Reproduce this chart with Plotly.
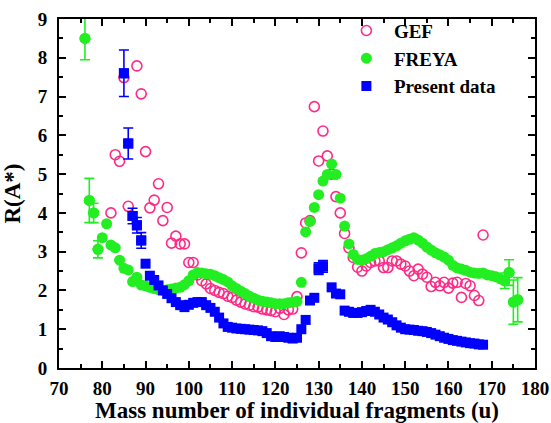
import plotly.graph_objects as go

# ---------------- data ----------------
gef_x = [82, 83, 84, 85, 86, 88, 89, 90, 91, 92, 93, 94, 95, 96, 97, 98, 99, 100, 101, 102,
         103, 104, 105, 106, 107, 108, 109, 110, 111, 112, 113, 114, 115, 116, 117, 118, 119, 120,
         121, 122, 123, 124, 125, 126, 127, 128, 129, 130, 131, 132, 133, 134, 135, 136, 137, 138,
         139, 140, 141, 142, 143, 144, 145, 146, 147, 148, 149, 150, 151, 152, 153, 154, 155, 156,
         157, 158, 159, 160, 161, 162, 163, 164, 165, 166, 167, 168]
gef_y = [4.0, 5.5, 5.33, 7.49, 4.17, 7.79, 7.07, 5.58, 4.13, 4.33, 4.75, 3.8, 4.14, 3.22, 3.4, 3.2,
         3.2, 2.72, 2.72, 2.4, 2.25, 2.17, 2.05, 2.0, 1.95, 1.92, 1.85, 1.82, 1.75, 1.7, 1.65, 1.62,
         1.58, 1.57, 1.52, 1.5, 1.48, 1.45, 1.54, 1.38, 1.5, 1.52, 1.84, 2.97, 3.74, 3.8, 6.74, 5.34,
         6.11, 5.47, 5.0, 4.42, 4.0, 3.47, 3.1, 2.85, 2.6, 2.5, 2.63, 2.72, 2.76, 2.76, 2.59, 2.59,
         2.76, 2.76, 2.68, 2.63, 2.5, 2.38, 2.55, 2.42, 2.34, 2.1, 2.21, 2.12, 2.21, 2.06, 2.19, 2.21,
         1.82, 2.18, 2.12, 1.87, 1.74, 3.43]

freya_x = list(range(76, 177))
freya_y = [8.5, 4.32, 4.0, 3.06, 3.36, 3.72, 3.17, 3.1, 2.78, 2.57, 2.53, 2.23, 2.34, 2.14, 2.12,
           2.08, 2.05, 2.02, 2.0, 2.02, 2.04, 2.06, 2.08, 2.15, 2.25, 2.4, 2.46, 2.45, 2.43, 2.42,
           2.38, 2.33, 2.28, 2.22, 2.12, 2.05, 1.98, 1.92, 1.85, 1.8, 1.75, 1.72, 1.7, 1.68, 1.66,
           1.66, 1.66, 1.68, 1.7, 1.72, 2.21, 3.51, 3.78, 4.14, 4.47, 4.82, 4.99, 5.26, 4.99, 4.38,
           3.66, 3.2, 2.93, 2.8, 2.78, 2.82, 2.88, 2.95, 2.98, 3.0, 3.05, 3.1, 3.15, 3.22, 3.28, 3.32,
           3.36, 3.3, 3.22, 3.12, 3.04, 2.97, 2.92, 2.86, 2.78, 2.65, 2.58, 2.55, 2.52, 2.47, 2.45,
           2.44, 2.45, 2.4, 2.38, 2.35, 2.3, 2.25, 2.46, 1.7, 1.76]
freya_err = {76: 0.55, 77: 0.57, 78: 0.25, 79: 0.22, 173: 0.2, 174: 0.33, 175: 0.57, 176: 0.57}

present_x = [85, 86, 87, 88, 89, 90, 91, 92, 93, 94, 95, 96, 97, 98, 99, 100, 101, 102, 103, 104,
             105, 106, 107, 108, 109, 110, 111, 112, 113, 114, 115, 116, 117, 118, 119, 120, 121,
             122, 123, 124, 125, 126, 127, 128, 129, 130, 131, 133, 134, 135, 136, 137, 138, 139,
             140, 141, 142, 143, 144, 145, 146, 147, 148, 149, 150, 151, 152, 153, 154, 155, 156,
             157, 158, 159, 160, 161, 162, 163, 164, 165, 166, 167, 168]
present_y = [7.6, 5.79, 3.92, 3.68, 3.29, 2.69, 2.38, 2.27, 2.13, 2.0, 1.91, 1.8, 1.7, 1.62, 1.57,
             1.63, 1.68, 1.7, 1.7, 1.62, 1.55, 1.45, 1.3, 1.15, 1.06, 1.04, 1.02, 1.01, 1.0, 0.99,
             0.98, 0.97, 0.95, 0.9, 0.82, 0.8, 0.82, 0.8, 0.78, 0.76, 0.78, 1.0, 1.24, 1.74, 1.81,
             2.56, 2.62, 2.08, 1.92, 1.9, 1.48, 1.45, 1.42, 1.42, 1.44, 1.47, 1.5, 1.45, 1.38, 1.3,
             1.25, 1.18, 1.1, 1.04, 1.0, 0.99, 0.98, 0.96, 0.95, 0.93, 0.9, 0.86, 0.82, 0.78, 0.75,
             0.72, 0.7, 0.68, 0.66, 0.64, 0.63, 0.61, 0.6]
present_err = {85: 0.6, 86: 0.4, 87: 0.2, 88: 0.2, 89: 0.2, 130: 0.15, 131: 0.15}

x_ticks = [70, 80, 90, 100, 110, 120, 130, 140, 150, 160, 170, 180]
y_ticks = [0, 1, 2, 3, 4, 5, 6, 7, 8, 9]

PINK = "#FF2A85"
GREEN = "#22EE22"
BLUE = "#0000FF"
FONT = "Liberation Serif"

fig = go.Figure()

fig.add_trace(go.Scatter(
    x=gef_x, y=gef_y, mode="markers", name="GEF",
    marker=dict(symbol="circle-open", size=10, color=PINK, line=dict(width=1.6, color=PINK)),
))

# FREYA error-bar points
fe_x = [x for x in freya_x if x in freya_err]
fe_y = [y for x, y in zip(freya_x, freya_y) if x in freya_err]
fe_e = [freya_err[x] for x in fe_x]
fig.add_trace(go.Scatter(
    x=fe_x, y=fe_y, mode="markers", showlegend=False,
    marker=dict(symbol="circle", size=11, color=GREEN),
    error_y=dict(type="data", array=fe_e, visible=True, color=GREEN, thickness=1.6, width=5),
))
fig.add_trace(go.Scatter(
    x=freya_x, y=freya_y, mode="markers", name="FREYA",
    marker=dict(symbol="circle", size=11, color=GREEN),
))

pe_x = [x for x in present_x if x in present_err]
pe_y = [y for x, y in zip(present_x, present_y) if x in present_err]
pe_e = [present_err[x] for x in pe_x]
fig.add_trace(go.Scatter(
    x=pe_x, y=pe_y, mode="markers", showlegend=False,
    marker=dict(symbol="square", size=10, color=BLUE),
    error_y=dict(type="data", array=pe_e, visible=True, color=BLUE, thickness=1.6, width=5),
))
fig.add_trace(go.Scatter(
    x=present_x, y=present_y, mode="markers", name="Present data",
    marker=dict(symbol="square", size=10, color=BLUE),
))

axis_common = dict(
    showline=True, linecolor="black", linewidth=2, mirror="ticks",
    ticks="inside", ticklen=7, tickwidth=1.5, tickcolor="black",
    showgrid=False, zeroline=False, automargin=False,
    tickfont=dict(family=FONT, size=19, color="black", weight="bold"),
)

fig.update_xaxes(
    range=[70, 180], tickvals=x_ticks,
    minor=dict(dtick=5, ticks="inside", ticklen=4, tickwidth=1.5, tickcolor="black"),
    title=dict(text="Mass number of individual fragments (u)",
               font=dict(family=FONT, size=23, color="black", weight="bold")),
    ticklabelstandoff=2,
    **axis_common,
)
fig.update_yaxes(
    range=[0, 9], tickvals=y_ticks,
    minor=dict(dtick=0.5, ticks="inside", ticklen=4, tickwidth=1.5, tickcolor="black"),
    title=dict(text="R(A*)", font=dict(family=FONT, size=23, color="black", weight="bold")),
    ticklabelstandoff=6,
    **axis_common,
)

fig.update_layout(
    width=551, height=423,
    margin=dict(l=59, r=16, t=16, b=55),
    paper_bgcolor="white", plot_bgcolor="white",
    showlegend=True,
    legend=dict(x=0.588, y=1.021, xanchor="left", yanchor="top", itemwidth=45,
                bgcolor="rgba(0,0,0,0)",
                font=dict(family=FONT, size=19, color="black", weight="bold")),
)

fig.write_html("out.html")
